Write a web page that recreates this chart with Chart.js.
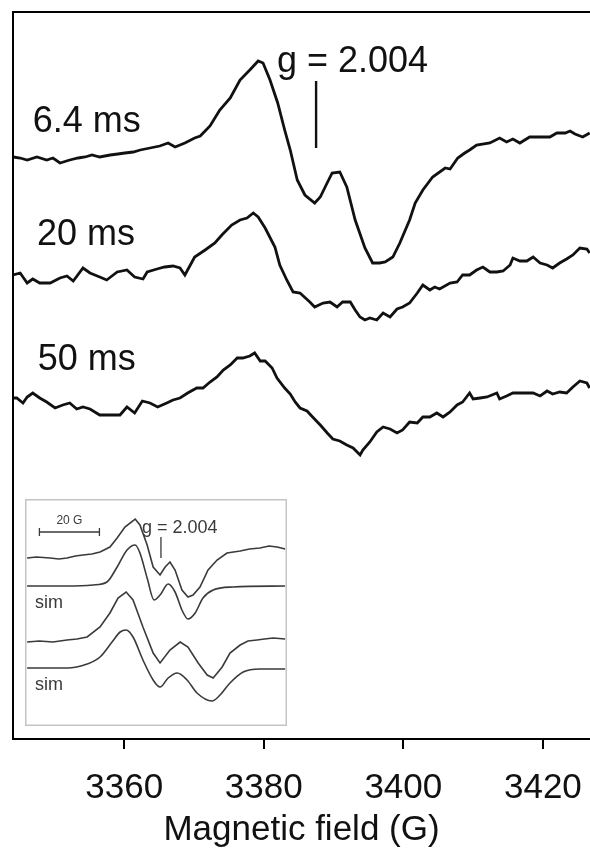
<!DOCTYPE html>
<html>
<head>
<meta charset="utf-8">
<script src="https://cdn.jsdelivr.net/npm/chart.js@4.4.1/dist/chart.umd.min.js"></script>
<style>
  html, body { margin: 0; padding: 0; background: #fff; }
  #wrap { position: relative; width: 590px; height: 853px; }
  #main { position: absolute; left: 0; top: 0; }
  #inset { position: absolute; left: 25px; top: 499px; background: #fff; }
</style>
</head>
<body>
<div id="wrap">
  <canvas id="main" width="590" height="853"></canvas>
  <canvas id="inset" width="262" height="227"></canvas>
</div>
<script>
// magnetic field (G), EPR signal (a.u.) relative to each trace's own baseline
const trace6_4ms = [[3344.1,2],[3345.1,1],[3346.1,-1],[3347.5,2],[3348.9,-1],[3349.8,1],[3350.8,-4],[3352.2,-1],[3353.4,1],[3354.4,2],[3355.4,4],[3356.5,2],[3358.0,4],[3359.1,5],[3360.1,6],[3361.3,7],[3362.3,9],[3363.7,11],[3365.1,13],[3366.3,16],[3367.3,12],[3368.7,16],[3370.1,21],[3370.9,23],[3371.6,28],[3372.3,33],[3373.7,49],[3375.2,61],[3376.6,79],[3378.0,89],[3379.2,98],[3379.9,96],[3380.9,79],[3382.0,56],[3383.0,29],[3383.8,9],[3384.8,-21],[3385.9,-36],[3387.3,-44],[3388.1,-38],[3388.8,-28],[3389.8,-14],[3390.9,-13],[3391.9,-28],[3393.1,-61],[3394.5,-89],[3395.6,-104],[3396.6,-104],[3397.4,-103],[3398.5,-98],[3399.5,-84],[3400.9,-61],[3401.7,-44],[3402.8,-31],[3404.2,-18],[3406.0,-9],[3406.7,-10],[3407.8,1],[3408.8,6],[3409.5,9],[3410.5,14],[3412.4,16],[3413.8,21],[3414.8,17],[3415.7,20],[3416.7,16],[3418.1,22],[3419.6,22],[3421.0,22],[3422.0,26],[3423.2,26],[3423.9,28],[3424.6,25],[3425.7,22],[3426.7,26]];

const trace20ms = [[3344.1,1],[3345.1,3],[3346.1,-7],[3346.9,-3],[3347.9,-7],[3349.4,-7],[3350.8,-2],[3351.8,0],[3352.7,-5],[3354.1,8],[3355.1,3],[3356.5,-1],[3357.5,-4],[3359.0,4],[3360.4,6],[3361.5,-1],[3362.7,-3],[3363.3,4],[3364.7,7],[3365.8,9],[3367.0,10],[3368.0,8],[3368.7,1],[3370.1,19],[3371.6,26],[3373.0,33],[3374.0,41],[3375.4,51],[3376.6,56],[3377.6,58],[3378.5,63],[3379.2,59],[3380.2,48],[3381.6,29],[3382.3,11],[3383.3,-4],[3384.2,-16],[3385.2,-17],[3386.6,-26],[3387.3,-31],[3388.5,-27],[3389.5,-26],[3390.5,-31],[3391.3,-26],[3392.4,-26],[3393.1,-34],[3393.8,-41],[3394.5,-44],[3395.2,-42],[3396.2,-44],[3397.1,-37],[3398.1,-41],[3399.1,-33],[3399.9,-31],[3400.9,-27],[3402.0,-17],[3402.8,-9],[3403.8,-14],[3404.5,-11],[3405.2,-13],[3406.7,-7],[3407.7,-6],[3408.5,1],[3409.5,1],[3410.5,6],[3411.4,9],[3412.4,4],[3413.4,4],[3414.3,5],[3415.3,11],[3415.7,18],[3416.7,15],[3417.7,15],[3418.6,19],[3419.6,13],[3420.6,11],[3421.4,8],[3422.4,13],[3423.4,17],[3424.3,21],[3425.3,28],[3426.3,27],[3426.7,23]];

const trace50ms = [[3344.1,0],[3344.6,0],[3345.5,-5],[3346.1,1],[3346.9,5],[3347.9,0],[3348.9,-4],[3350.1,-10],[3351.2,-7],[3352.2,-5],[3353.2,-11],[3354.1,-9],[3355.1,-11],[3356.5,-17],[3358.0,-17],[3359.4,-17],[3360.4,-9],[3361.5,-15],[3362.6,-3],[3363.7,-5],[3364.8,-9],[3366.1,-5],[3367.0,-2],[3368.0,0],[3369.1,5],[3370.4,10],[3371.3,10],[3372.3,16],[3373.3,21],[3374.2,28],[3375.2,33],[3376.2,40],[3377.0,40],[3378.0,42],[3378.7,45],[3379.5,37],[3380.2,37],[3381.2,30],[3381.9,20],[3383.0,10],[3383.8,4],[3384.5,-4],[3385.2,-10],[3386.2,-13],[3387.0,-19],[3388.1,-27],[3389.1,-35],[3389.9,-41],[3390.9,-43],[3391.9,-47],[3392.8,-50],[3393.8,-57],[3394.2,-52],[3395.2,-44],[3396.2,-34],[3397.1,-29],[3398.1,-31],[3399.1,-35],[3399.9,-32],[3400.9,-24],[3402.0,-25],[3402.8,-19],[3403.8,-19],[3404.8,-15],[3405.7,-19],[3406.7,-14],[3407.7,-7],[3408.5,-4],[3409.5,5],[3410.0,-1],[3411.0,0],[3412.0,1],[3413.4,5],[3413.8,-1],[3414.8,2],[3415.7,5],[3416.7,5],[3417.7,5],[3418.6,5],[3419.6,2],[3420.6,7],[3421.4,4],[3422.4,6],[3423.4,5],[3424.3,11],[3425.3,17],[3426.3,15],[3426.7,10]];

// inset: experiment + simulation pairs
const insetExp1 = [[3342.9,0],[3346.0,1],[3350.5,0],[3353.5,-1],[3356.2,0],[3359.0,2],[3361.5,3],[3364.5,4],[3367.2,6],[3370.5,11],[3372.9,20],[3375.5,31],[3378.9,39],[3380.5,33],[3382.9,13],[3384.9,-9],[3387.2,-17],[3388.9,-9],[3390.5,-4],[3392.2,-12],[3394.5,-32],[3396.5,-39],[3398.2,-37],[3400.5,-29],[3403.2,-12],[3406.2,-2],[3409.5,5],[3413.9,7],[3417.0,9],[3420.5,10],[3423.5,12],[3426.2,11],[3428.9,9]];
const insetSim1 = [[3342.9,0],[3356.2,0],[3364.9,1],[3369.5,4],[3372.9,19],[3376.2,36],[3378.9,41],[3380.5,33],[3382.9,8],[3385.2,-14],[3387.2,-9],[3389.9,2],[3392.2,-6],[3394.5,-24],[3396.5,-33],[3398.9,-27],[3401.5,-12],[3404.9,-4],[3411.5,-1],[3428.9,0]];
const insetExp2 = [[3342.9,-1],[3347.0,0],[3351.5,-1],[3356.2,1],[3359.5,2],[3362.9,4],[3367.2,14],[3370.5,28],[3373.2,43],[3375.9,49],[3378.2,41],[3381.5,14],[3384.9,-12],[3387.2,-22],[3390.5,-9],[3393.9,-1],[3396.5,-6],[3399.9,-22],[3402.9,-34],[3404.9,-37],[3407.9,-26],[3410.5,-12],[3413.9,-4],[3416.5,0],[3419.5,1],[3422.0,2],[3424.9,3],[3428.9,2]];
const insetSim2 = [[3342.9,0],[3356.2,0],[3362.9,4],[3367.2,11],[3371.2,26],[3373.9,36],[3375.9,38],[3378.2,31],[3381.5,8],[3384.9,-12],[3387.2,-19],[3389.9,-10],[3392.9,-5],[3396.2,-12],[3399.5,-25],[3404.5,-33],[3407.2,-27],[3410.5,-15],[3414.9,-4],[3420.5,-1],[3428.9,-1]];

const xTicks = [3360, 3380, 3400, 3420];
const traceLabels = ['6.4 ms', '20 ms', '50 ms'];
const gLabel = 'g = 2.004';
const gField = 3387.5;

const FONT = '"Liberation Sans", Arial, Helvetica, sans-serif';
const INK = '#111';

function toPoints(pairs, offset) {
  return pairs.map(p => ({ x: p[0], y: p[1] + offset }));
}

function lineSet(pairs, offset, opts) {
  return Object.assign({
    data: toPoints(pairs, offset),
    borderColor: INK,
    borderWidth: 2.8,
    pointRadius: 0,
    tension: 0,
    fill: false
  }, opts || {});
}

// main panel: stacked spectra, offsets in a.u.
const mainOffsets = [580, 463, 341];

const mainDecor = {
  id: 'mainDecor',
  afterDraw(chart) {
    const ctx = chart.ctx;
    const a = chart.chartArea;
    const xs = chart.scales.x, ys = chart.scales.y;
    ctx.save();
    ctx.strokeStyle = '#000';
    ctx.lineWidth = 2;
    ctx.beginPath();
    ctx.moveTo(a.left, a.bottom);
    ctx.lineTo(a.left, a.top);
    ctx.lineTo(a.right, a.top);
    ctx.stroke();

    ctx.fillStyle = INK;
    ctx.font = '36px ' + FONT;
    ctx.textAlign = 'left';
    ctx.textBaseline = 'alphabetic';
    const labelPos = [[3346.9, 607], [3347.5, 494], [3347.6, 369]];
    traceLabels.forEach((t, i) => {
      ctx.fillText(t, xs.getPixelForValue(labelPos[i][0]), ys.getPixelForValue(labelPos[i][1]));
    });
    ctx.fillText(gLabel, xs.getPixelForValue(3381.9), ys.getPixelForValue(667));
    ctx.restore();
  }
};

new Chart(document.getElementById('main'), {
  type: 'line',
  data: {
    datasets: [
      lineSet(trace6_4ms, mainOffsets[0]),
      lineSet(trace20ms, mainOffsets[1]),
      lineSet(trace50ms, mainOffsets[2]),
      lineSet([[gField, 11], [gField, 78]], mainOffsets[0], { borderWidth: 2.4 })
    ]
  },
  options: {
    responsive: false,
    animation: false,
    events: [],
    layout: { padding: { left: 13, top: 12, right: 0, bottom: 0 } },
    plugins: { legend: { display: false }, tooltip: { enabled: false } },
    scales: {
      x: {
        type: 'linear',
        min: 3344.07,
        max: 3426.75,
        afterBuildTicks: s => { s.ticks = xTicks.map(v => ({ value: v })); },
        afterFit: s => { s.height = 114; s.paddingLeft = 0; s.paddingRight = 0; },
        grid: { display: true, drawOnChartArea: false, drawTicks: true, tickLength: 10, color: '#000', lineWidth: 2 },
        border: { display: true, color: '#000', width: 2 },
        ticks: { color: INK, font: { size: 35, family: FONT }, padding: 18, maxRotation: 0, autoSkip: false, callback: v => String(v) },
        title: { display: true, text: 'Magnetic field (G)', color: INK, font: { size: 35, family: FONT }, padding: { top: 0, bottom: 2 } }
      },
      y: { display: false, min: 0, max: 727 }
    }
  },
  plugins: [mainDecor]
});

// inset panel
const insetOffsets = [168, 140, 85, 58];
const INSET_INK = '#3a3a3a';

const insetDecor = {
  id: 'insetDecor',
  afterDraw(chart) {
    const ctx = chart.ctx;
    const a = chart.chartArea;
    const xs = chart.scales.x, ys = chart.scales.y;
    ctx.save();
    ctx.strokeStyle = '#c4c4c4';
    ctx.lineWidth = 1.5;
    ctx.strokeRect(a.left + 0.75, a.top + 0.75, a.right - a.left - 1.5, a.bottom - a.top - 1.5);

    // 20 G scale bar
    const x0 = xs.getPixelForValue(3347), x1 = xs.getPixelForValue(3367), yb = ys.getPixelForValue(194);
    ctx.strokeStyle = INSET_INK;
    ctx.lineWidth = 1.3;
    ctx.beginPath();
    ctx.moveTo(x0, yb); ctx.lineTo(x1, yb);
    ctx.moveTo(x0, yb - 4); ctx.lineTo(x0, yb + 4);
    ctx.moveTo(x1, yb - 4); ctx.lineTo(x1, yb + 4);
    ctx.stroke();

    ctx.fillStyle = INSET_INK;
    ctx.textBaseline = 'middle';
    ctx.textAlign = 'center';
    ctx.font = '12px ' + FONT;
    ctx.fillText('20 G', xs.getPixelForValue(3357), ys.getPixelForValue(205));

    ctx.textAlign = 'left';
    ctx.font = '18px ' + FONT;
    ctx.fillText(gLabel, xs.getPixelForValue(3381.2), ys.getPixelForValue(198));
    ctx.fillText('sim', xs.getPixelForValue(3345.5), ys.getPixelForValue(123));
    ctx.fillText('sim', xs.getPixelForValue(3345.5), ys.getPixelForValue(41));
    ctx.restore();
  }
};

const insetLine = { borderColor: INSET_INK, borderWidth: 1.6 };
const insetSmooth = { borderColor: INSET_INK, borderWidth: 1.6, cubicInterpolationMode: 'monotone' };

new Chart(document.getElementById('inset'), {
  type: 'line',
  data: {
    datasets: [
      lineSet(insetExp1, insetOffsets[0], insetLine),
      lineSet(insetSim1, insetOffsets[1], insetSmooth),
      lineSet(insetExp2, insetOffsets[2], insetLine),
      lineSet(insetSim2, insetOffsets[3], insetSmooth),
      lineSet([[gField, 168], [gField, 189]], 0, { borderColor: INSET_INK, borderWidth: 1.3 })
    ]
  },
  options: {
    responsive: false,
    animation: false,
    events: [],
    layout: { padding: 0 },
    plugins: { legend: { display: false }, tooltip: { enabled: false } },
    scales: {
      x: { type: 'linear', display: false, min: 3342.2, max: 3429.5 },
      y: { display: false, min: 0, max: 227 }
    }
  },
  plugins: [insetDecor]
});
</script>
</body>
</html>
